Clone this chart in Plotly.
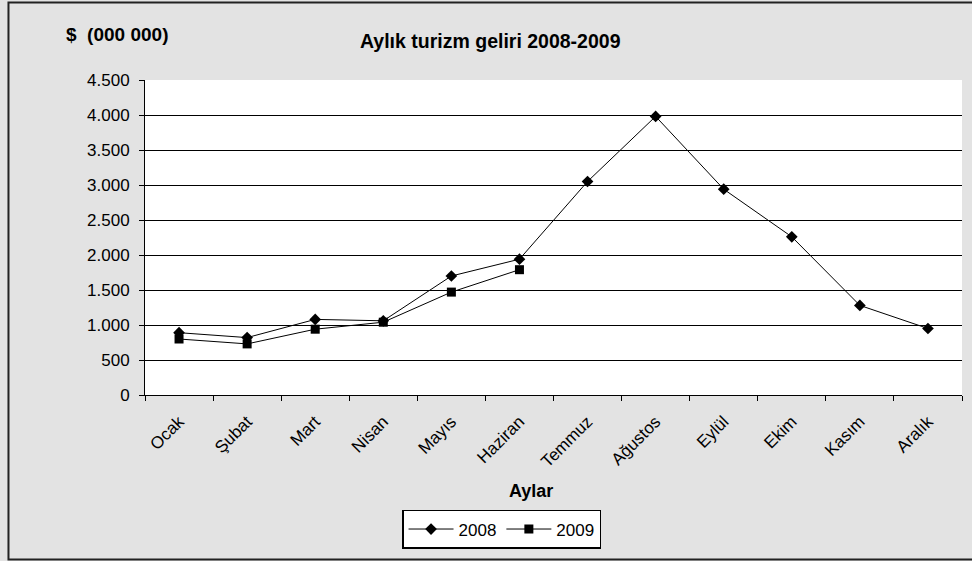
import plotly.graph_objects as go

months = ["Ocak", "Şubat", "Mart", "Nisan", "Mayıs", "Haziran",
          "Temmuz", "Ağustos", "Eylül", "Ekim", "Kasım", "Aralık"]
rev_2008 = [890, 820, 1080, 1060, 1700, 1940, 3050, 3980, 2940, 2260, 1280, 950]
rev_2009 = [800, 730, 940, 1040, 1470, 1790]
y_ticks = [0, 500, 1000, 1500, 2000, 2500, 3000, 3500, 4000]
y_tick_labels = ["0", "500", "1.000", "1.500", "2.000", "2.500",
                 "3.000", "3.500", "4.000"]
y_top_tick = [4500]
y_top_label = ["4.500"]
y_range = [0, 4500]

FONT = "Liberation Sans, Arial, sans-serif"

fig = go.Figure()
fig.add_trace(go.Scatter(
    x=months, y=rev_2008, name="2008", mode="lines+markers",
    line=dict(color="black", width=1),
    marker=dict(symbol="diamond", size=9, color="black"),
))
fig.add_trace(go.Scatter(
    x=months[:len(rev_2009)], y=rev_2009, name="2009", mode="lines+markers",
    line=dict(color="black", width=1),
    marker=dict(symbol="square", size=9, color="black"),
    yaxis="y2",
))

axis_font = dict(family=FONT, size=17, color="black")

fig.update_layout(
    width=972, height=561,
    margin=dict(l=145, r=10, t=80, b=166, autoexpand=False),
    paper_bgcolor="#e3e3e3",
    plot_bgcolor="white",
    font=dict(family=FONT, size=17, color="black"),
    showlegend=True,
    legend=dict(
        orientation="h", x=0.4364, xanchor="center", y=-0.365, yanchor="top",
        bgcolor="white", bordercolor="black", borderwidth=1.5,
        font=dict(family=FONT, size=17, color="black"),
        itemwidth=45, tracegroupgap=0,
    ),
    xaxis=dict(
        type="category", categoryorder="array", categoryarray=months,
        range=[-0.5, 11.5], tickangle=-45, tickson="boundaries",
        ticks="outside", ticklen=5, tickcolor="black",
        showline=True, linecolor="black", linewidth=1,
        showgrid=False, zeroline=False, ticklabelstandoff=9,
        tickfont=axis_font,
    ),
    yaxis=dict(
        range=y_range, tickvals=y_ticks, ticktext=y_tick_labels,
        ticks="outside", ticklen=5, tickcolor="black",
        showline=True, linecolor="black", linewidth=1,
        showgrid=True, gridcolor="black", gridwidth=1,
        zeroline=False, ticklabelstandoff=6,
        tickfont=axis_font,
    ),
    yaxis2=dict(
        overlaying="y", side="left", range=y_range,
        tickvals=y_top_tick, ticktext=y_top_label,
        ticks="outside", ticklen=5, tickcolor="black",
        showline=False, showgrid=False, zeroline=False, ticklabelstandoff=6,
        tickfont=axis_font,
    ),
    annotations=[
        dict(text="<b>Aylık turizm geliri 2008-2009</b>", xref="paper", yref="paper",
             x=0.4229, y=1.1238, xanchor="center", yanchor="middle", showarrow=False,
             font=dict(family=FONT, size=19.5, color="black")),
        dict(text="<b>$  (000 000)</b>", xref="paper", yref="paper",
             x=-0.0337, y=1.1429, xanchor="center", yanchor="middle", showarrow=False,
             font=dict(family=FONT, size=19, color="black")),
        dict(text="<b>Aylar</b>", xref="paper", yref="paper",
             x=0.473, y=-0.3048, xanchor="center", yanchor="middle", showarrow=False,
             font=dict(family=FONT, size=18, color="black")),
    ],
    shapes=[
        dict(type="rect", xref="paper", yref="paper",
             x0=-0.1671, x1=1.03, y0=-0.5222, y1=1.246,
             line=dict(color="#222222", width=2), fillcolor="rgba(0,0,0,0)", layer="above"),
    ],
)

fig.write_html("out.html", config={"displayModeBar": False},
               post_script="document.body.style.margin='0';")
